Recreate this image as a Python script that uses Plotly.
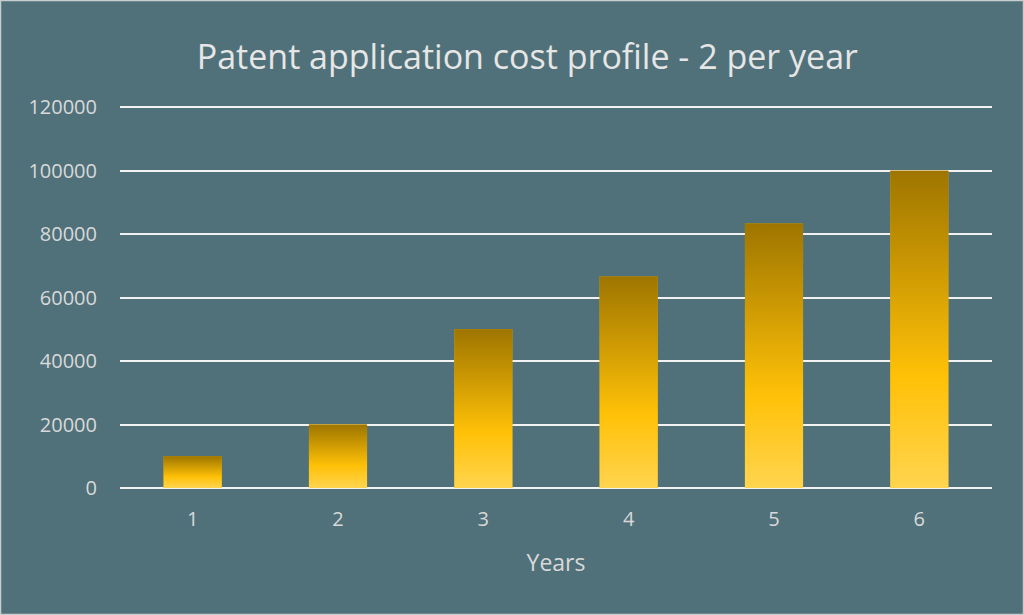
import plotly.graph_objects as go

# ====== data ======
years = [1, 2, 3, 4, 5, 6]
cost = [10000, 20000, 50000, 66667, 83333, 100000]
y_ticks = [0, 20000, 40000, 60000, 80000, 100000, 120000]

BG = '#507179'
TXT = '#D9D9D9'
GOLD = [[0, '#FFD44F'], [0.35, '#FFC107'], [1, '#9E7500']]
BAR_W = 0.4
W, H = 1024, 615
ML, MR, MT, MB = 120, 32, 106, 127

fig = go.Figure()

# base bars
fig.add_trace(go.Bar(
    x=years, y=cost, width=BAR_W,
    marker=dict(color='#E0A800', line=dict(width=0)),
    hovertemplate='Year %{x}: %{y}<extra></extra>',
))

# gradient overlay: one filled rectangle per bar, built from the same values
for x, v in zip(years, cost):
    fig.add_trace(go.Scatter(
        x=[x - BAR_W / 2, x + BAR_W / 2, x + BAR_W / 2, x - BAR_W / 2, x - BAR_W / 2],
        y=[0, 0, v, v, 0],
        mode='lines', fill='toself',
        line=dict(width=0),
        fillgradient=dict(type='vertical', colorscale=GOLD),
        hoverinfo='skip', showlegend=False,
    ))

# thin frame round the whole chart
pw, ph = W - ML - MR, H - MT - MB
fig.add_shape(type='rect', xref='paper', yref='paper',
              x0=-ML / pw + 0.5 / pw, x1=1 + MR / pw - 0.5 / pw,
              y0=-MB / ph + 0.5 / ph, y1=1 + MT / ph - 0.5 / ph,
              line=dict(color='#C8CDCE', width=1.5), layer='above')

fig.update_layout(
    width=W, height=H,
    paper_bgcolor=BG, plot_bgcolor=BG,
    margin=dict(l=ML, r=MR, t=MT, b=MB),
    showlegend=False,
    font=dict(family='Open Sans', color=TXT, size=20),
    title=dict(text='Patent application cost profile - 2 per year',
               x=0.515, xanchor='center', y=0.907, yanchor='middle',
               font=dict(size=34, color='#E6E6E6')),
)
fig.update_xaxes(
    range=[0.5, 6.5], tickvals=years, ticktext=[str(y) for y in years],
    showgrid=False, zeroline=False, showline=False, ticks='',
    ticklabelstandoff=17,
    title=dict(text='Years', font=dict(size=23, color=TXT), standoff=23),
)
fig.update_yaxes(
    range=[0, 120400], tickvals=y_ticks, ticktext=[str(t) for t in y_ticks],
    showgrid=True, gridcolor='#F2F2F2', gridwidth=1.5,
    zeroline=True, zerolinecolor='#F2F2F2', zerolinewidth=1.5,
    showline=False, ticks='', ticklabelstandoff=22,
)

fig.write_html('out.html', config={'displayModeBar': False},
               post_script="document.body.style.margin='0';")
